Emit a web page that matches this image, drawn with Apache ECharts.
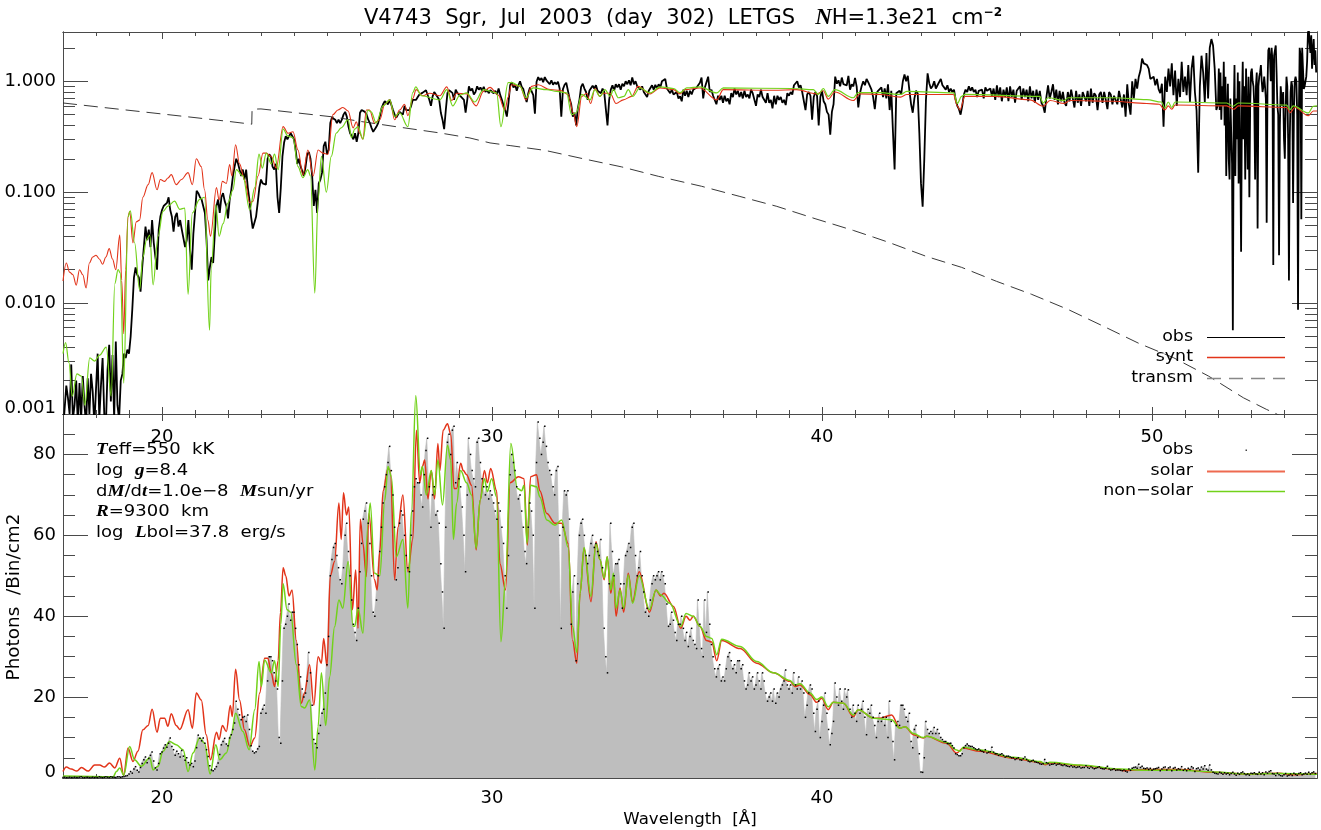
<!DOCTYPE html>
<html><head><meta charset="utf-8">
<style>html,body{margin:0;padding:0;background:#fff}#c{width:1321px;height:830px}</style>
<script src="https://cdn.jsdelivr.net/npm/echarts@6/dist/echarts.min.js"></script>
</head><body><div id="c"></div>
<script>
// Observed flux, upper panel: one row per angstrom, from 17 A
const obsTopRows = [
[.0007,.0007,.0018,.0014,.001,.0028,.0009,.0012,.002,.0008,.0019,.0009,.0022,.0012,.0008,.0021,.001,.0023,.0016,.0008],
[.0008,.0035,.0009,.0018,.0032,.001,.0008,.0025,.0042,.0013,.0034,.0009,.0045,.0012,.0009,.002,.0023,.0035,.0032,.0038],
[.0035,.005,.0088,.017,.021,.018,.017,.0127,.021,.032,.049,.037,.046,.032,.056,.035,.026,.02,.046,.06],
[.069,.075,.072,.08,.09,.069,.06,.044,.06,.065,.049,.056,.046,.046,.032,.037,.056,.03,.02,.042],
[.065,.103,.098,.09,.086,.083,.065,.037,.016,.021,.026,.023,.042,.075,.086,.065,.09,.098,.083,.075],
[.058,.085,.105,.14,.17,.2,.183,.16,.14,.16,.13,.16,.11,.085,.06,.047,.053,.06,.08,.11],
[.13,.12,.125,.117,.2,.22,.21,.17,.16,.18,.09,.065,.11,.21,.28,.32,.3,.32,.34,.33],
[.3,.24,.18,.2,.17,.155,.14,.17,.22,.23,.2,.14,.075,.105,.065,.12,.13,.15,.26,.285],
[.22,.24,.42,.47,.48,.45,.42,.45,.42,.45,.5,.53,.48,.39,.34,.32,.3,.34,.285,.34],
[.52,.55,.57,.53,.5,.45,.42,.38,.35,.37,.39,.42,.48,.57,.62,.66,.68,.62,.68,.66],
[.55,.5,.47,.48,.53,.55,.5,.6,.55,.53,.55,.6,.68,.66,.68,.72,.76,.74,.79,.77],
[.83,.8,.68,.6,.73,.8,.76,.72,.68,.52,.45,.37,.55,.785,.83,.81,.785,.68,.84,.785],
[.785,.73,.74,.68,.52,.68,.9,.82,.86,.76,.8,.9,.84,.88,.82,.89,.8,.84,.78,.83],
[.84,.78,.82,.76,.86,.75,.68,.6,.55,.48,.64,.92,.98,.88,.93,.82,.92,1.0,.89,.85],
[.73,.65,.78,.88,.9,.75,.51,.99,1.09,1.02,1.07,.98,1.09,1.02,1.06,.94,1.02,.93,.98,.94],
[.99,.86,.48,.85,.93,.97,1.0,.7,.62,.48,.52,.4,.57,.68,.89,.95,.86,.8,.68,.82],
[.84,.91,.86,.92,.82,.85,.78,.86,.8,.56,.4,.68,.84,.92,.82,.94,.88,.94,.84,.95],
[.9,1.0,.94,1.02,.92,1.08,.94,1.0,.9,.92,.84,.9,.8,.82,.72,.82,.8,.92,.84,.93],
[.86,.94,.88,1.0,.98,1.05,.86,.88,.78,.84,.76,.74,.8,.7,.73,.66,.84,.74,.82,.72],
[.82,.76,.84,.82,.88,.86,.97,1.08,.7,.88,.86,1.1,.8,.84,.74,.76,.62,.74,.68,.74],
[.64,.74,.66,.7,.62,.78,.72,.86,.76,.82,.72,.8,.7,.82,.72,.76,.7,.84,.78,.8],
[.6,.76,.72,.84,.72,.74,.64,.78,.64,.68,.57,.74,.62,.74,.68,.72,.64,.68,.61,.78],
[.74,.8,.76,.92,.93,1.0,.88,.92,.8,.78,.55,.76,.8,.74,.45,.72,.8,.74,.4,.72],
[.82,.66,.62,.53,.5,.33,.53,.62,1.1,.95,1.02,.9,1.08,.94,.96,.92,1.12,.84,.94,.9],
[1.07,.9,.58,.78,.9,1.0,.92,1.05,.98,.98,.84,.72,.56,.78,.82,.84,.88,.72,.86,.7],
[.94,.55,.82,.35,.16,.78,.8,.82,.76,1.0,1.15,1.0,1.12,.82,.62,.52,.7,.82,.78,.34],
[.12,.074,.2,.68,1.18,.96,.86,.9,1.0,.86,.92,.92,1.05,.92,.88,.84,.92,.8,.86,.8],
[.84,.68,.6,.56,.5,.6,.76,.84,.8,.9,.82,.88,.8,.84,.72,.82,.8,.84,.7,.88],
[.82,.8,.86,.74,.86,.68,.92,.72,.88,.66,.84,.72,.88,.66,.9,.72,.84,.64,.82,.8],
[.9,.68,.86,.72,.84,.66,.9,.7,.82,.64,.84,.68,.82,.64,.6,.52,.72,.92,.7,.8],
[.94,.68,.84,.62,.82,.66,.8,.64,.6,.8,.66,.84,.7,.58,.82,.64,.76,.6,.8,.78],
[.66,.82,.6,.86,.64,.78,.74,.55,.76,.8,.64,.8,.68,.56,.8,.76,.62,.74,.76,.62],
[.82,.82,.58,.76,.48,.94,.62,.5,1.0,.7,1.05,.86,1.1,1.25,1.6,1.45,1.4,1.4,1.3,1.05],
[1.05,1.1,.92,1.05,.85,.78,.95,.39,1.1,.8,1.3,.9,1.45,.75,1.25,.6,1.05,.72,1.5,.8],
[1.1,.75,1.4,.65,1.3,1.7,.8,.55,.15,.9,1.7,1.2,.65,1.8,.7,2.0,2.4,2.1,1.3,.55],
[.62,1.3,.55,1.2,.45,.9,.6,1.5,.4,1.1,.14,.5,.95,.2,.13,.7,.35,.18,.0057,.45,1.4,.14,.7,.3,1.2,.12,1.0,.22,.029,.6,1.5,.3,.9,.13,1.3,.5,.16,1.1,.09,.6],
[1.2,1.3,1.0,.9,.6,.13,.9,1.2,.047,.9,1.1,1.2,1.4,1.0,.8,.9,1.1,.9,.7,.053,.9,1.9,2.0,1.6,1.0,2.0,1.5,.022,1.7,1.9,2.1,1.2,.6,.5,.027,.4,.9,.7,.6,.8],
[.3,.2,.6,1.1,.9,.3,.016,.3,.8,1.0,.9,.08,.5,1.0,1.1,1.0,.5,.0087,.5,2.0,1.7,.057,2.0,1.3,.85,.9,1.0,1.1,1.5,2.7,3,2.2,1.8,2.6,1.3,1.9,2.4,1.4,1.9,1.2]
];
// Observed photons per bin, lower panel: one row per angstrom, from 17 A
const obsBinRows = [
[.1,.2,.1,.1,.2,.1,.1,.2,.1,.1,.2,.3,.1,.1,.2,.2,.1,.1,.2,.1],
[.2,.1,.3,.2,.1,.2,.3,.2,.1,.3,.2,.2,.1,.3,.3,.2,.3,.4,.5,.6],
[1,1.6,1.2,2.2,2.8,1.9,1.5,2.6,3.6,4.5,5.2,3.8,4.8,5.6,6.4,4.2,2.5,2,3.6,6],
[6.4,7.4,8.2,7.6,8.6,9.9,7.8,7,5.6,6.6,6,5.2,6.8,5.4,4.4,5,3.8,3.2,3.6,2.8],
[4.2,7.5,10.6,9.8,9.2,9.9,8.6,7,5.3,3,2,1.8,2.2,2.8,3.7,5.8,8.2,9,9.8,8.4],
[8,9.9,10.7,12,13.6,19,17,15.6,14.4,15,15.2,14,15.6,12,8,6.6,6.2,6.5,7.2,7.8],
[16,17,18,16,24,30,30,29,26,24,22,10,8.6,24,37,38,40,43,39,41],
[41,37,33,28,25,22,20,21,24,31,26,18,9.5,8.5,7.5,11,13,16,17,21],
[28,35,50,54,57,58,55,52,49,48,52,60,63,56,50,44,38,36,34,42],
[51,58,64,66,68,63,58,50,41,40,44,50,56,62,68,72,75,78,82,76],
[70,62,49,52,63,66,65,60,55,52,51,60,66,72,74,73,73,70,67,75],
[81,84,72,62,70,72,65,66,63,53,46,37,62,83,85,80,86,87,73,78],
[74,72,67,60,51,70,84,80,76,74,72,83,84,78,74,72,70,72,69,71],
[70,68,66,64,68,66,62,58,50,42,55,75,80,78,76,72,69,70,66,62],
[56,53,62,68,66,60,42,78,88,84,80,83,87,82,78,76,75,72,70,76],
[77,60,37,62,71,70,71,64,38,46,50,29,48,60,63,64,60,55,53,55],
[58,60,57,58,56,55,59,52,37,30,26,48,63,56,50,53,53,54,48,42],
[48,55,56,58,57,62,63,55,50,52,56,50,46,41,42,40,44,48,50,49],
[50,51,49,51,50,48,43,37.5,38,41,39,36,34,38,38,40,37,34,36,32.5],
[35,37,34,33,32,44,38,32,30,44,36,46,38,33,30,27,25,27,28,24],
[25,24,27,30,31,29,27,28,26,29,29,27,28,24,22,23,26,24,25,22],
[23,26,24,22,26,24,21,19,20,21,19,22,18.5,21,20,22,23,24,26.7,23],
[22,23,21,26,23,22,25,22,24,21,15,18,21,23,22,16,11.5,17,19,10],
[14,18,21,16,12,8.2,11,14,23.5,20,18,22,19,17,22,20,21.8,17,15,18],
[16,14,18,16,17,19,15,10.7,17,16,18,15,13,10,14,16,14,15,13,15],
[10,19,14,9,4.5,13,14,13,18,18,17,15,14,16,9,7.5,12,13,10,6],
[1.5,1.4,5,14,12,11,11.5,11,12.5,11,12,11,10,9.5,9,9,8.5,8.5,8.6,8],
[7.4,6,5.8,5.5,5.5,6,7.5,8,8.4,8,7.8,7.8,7.5,7.2,7,7.2,6.8,6.6,6.4,7],
[6.2,6.4,6.5,7.6,6.4,6,6,5.6,5.8,6,5.6,5.2,5.4,5.4,5.2,5,5,4.6,4.8,5],
[4.5,4.4,4.8,5.2,4.6,4.2,4,4.2,4.4,4,3.9,3.8,3.5,3.4,3.5,4.6,3.8,3.6,3.2,3.4],
[3.4,3.6,3.2,3.4,3.5,3.2,3.1,3.3,3,2.9,2.8,3,2.7,2.8,2.6,2.7,2.8,2.5,2.6,2.6],
[3,2.6,2.4,2.7,2.5,2.3,2.4,2.6,2.8,2.4,2.3,2.2,2.4,2.9,2.2,2,2.1,2.3,1.9,2],
[2,1.9,1.8,2,1.7,1.5,2.2,1.9,2.4,2.6,2.7,2.4,3.4,2.6,2.9,2.4,2.3,2.5,2.1,2.4],
[1.9,2.2,2.3,2.4,2.6,1.8,2.2,2.6,2.7,2,2.5,2.7,1.8,2.4,2.6,2,2.3,2.1,2.8,1.9],
[2.2,1.8,2.4,2.1,2.8,2.5,1.6,2.3,2.5,2,2.7,2.2,3,2.2,1.9,3.2,2,1.4,1.2,1.1],
[1,1.4,1.2,.9,1.3,1,1.2,.8,1.1,1.4,1,.7,1.2,.9,1.3,1.5,1.1,.8,1,.7],
[1.2,1.1,1.3,1,.9,1.4,1,1.3,.8,1.5,1.2,1.6,1.8,1.1,1,.6,1.2,.8,.6,.5],
[.8,1.1,.5,.7,1,.6,1.2,.9,.7,1.1,1.3,.8,1,1.2,.9,1.4,1,1.3,1.5,1.1]
];
// Model curves: wavelength, then value read at that wavelength
const redTopWave = [17,17.1,17.2,17.3,17.4,17.5,17.6,17.7,17.8,17.9,18,18.1,18.2,18.3,18.4,18.5,18.6,18.72,18.78,18.84,18.9,18.97,19.02,19.12,19.22,19.32,19.42,19.58,19.7,19.85,19.95,20.08,20.18,20.28,20.43,20.59,20.79,20.92,21.04,21.19,21.29,21.39,21.47,21.65,21.73,21.83,21.95,22.05,22.12,22.23,22.35,22.5,22.66,22.76,22.91,23.06,23.16,23.31,23.46,23.67,23.82,23.97,24.12,24.27,24.42,24.58,24.73,24.88,25.03,25.18,25.33,25.48,25.64,25.79,25.89,25.99,26.09,26.19,26.29,26.44,26.6,26.75,26.9,27.05,27.2,27.35,27.45,27.6,27.7,27.9,28.11,28.42,28.63,28.78,28.93,29.23,29.52,29.74,29.94,30.19,30.39,30.49,30.59,30.85,31.03,31.2,31.4,31.76,32.06,32.31,32.46,32.57,32.72,32.87,32.99,33.12,33.27,33.37,33.58,33.76,33.98,34.23,34.43,34.79,35.09,35.5,35.7,35.85,36.3,36.81,37.01,38.53,39.23,39.84,40.04,40.19,40.39,40.95,41.15,41.76,42.38,42.57,43.98,44.1,44.18,44.33,45.29,46.3,46.7,46.91,47.33,47.52,48.83,49.84,50.22,50.39,50.49,50.6,50.7,52.26,52.48,52.62,54.08,54.18,54.33,54.74,54.89,55];
const redTopFlux = [.0158,.023,.019,.018,.0145,.02,.018,.0137,.023,.026,.027,.025,.0224,.026,.031,.025,.02,.041,.016,.0053,.02,.06,.067,.035,.054,.056,.09,.117,.15,.105,.13,.125,.134,.144,.117,.13,.15,.117,.2,.17,.105,.056,.04,.11,.085,.125,.12,.177,.14,.268,.18,.13,.08,.083,.14,.225,.225,.21,.165,.39,.34,.35,.24,.143,.24,.14,.24,.225,.22,.5,.55,.58,.54,.38,.43,.34,.3,.55,.55,.42,.45,.62,.68,.45,.55,.62,.49,.7,.84,.74,.78,.74,.89,.67,.78,.77,.6,.81,.88,.75,.55,.72,.93,.9,.68,.9,.93,.84,.83,.76,.52,.39,.73,.78,.63,.86,.73,.78,.78,.63,.68,.73,.9,.77,.87,.84,.77,.84,.87,.68,.84,.83,.84,.77,.82,.69,.8,.67,.77,.76,.72,.76,.76,.6,.55,.73,.73,.68,.595,.67,.63,.67,.66,.63,.62,.55,.6,.56,.61,.6,.56,.6,.58,.52,.58,.49,.54,.54];
const greenTopWave = [17,17.08,17.18,17.28,17.42,17.56,17.66,17.81,17.96,18.11,18.31,18.46,18.57,18.67,18.74,18.84,18.97,19.04,19.17,19.32,19.42,19.53,19.63,19.73,19.88,20.03,20.18,20.38,20.54,20.69,20.79,20.92,21.14,21.29,21.44,21.49,21.63,21.73,21.85,22,22.15,22.25,22.45,22.66,22.81,22.94,23.04,23.16,23.31,23.41,23.52,23.67,23.82,23.97,24.12,24.27,24.42,24.5,24.63,24.73,24.83,24.98,25.13,25.28,25.43,25.64,25.74,25.84,25.94,26.09,26.24,26.34,26.49,26.7,26.9,27.05,27.2,27.45,27.6,27.69,27.86,28.42,28.63,28.81,29.03,29.23,29.48,29.74,30.14,30.27,30.49,30.6,30.85,31.03,31.25,31.66,31.96,32.26,32.41,32.55,32.72,32.97,33.12,33.27,33.42,33.58,33.68,33.83,34,34.13,34.26,34.48,34.79,35.09,35.5,35.7,35.9,36.3,36.81,37.01,39.13,39.74,39.89,40.04,40.19,40.39,40.95,41.1,41.76,42.38,42.57,44,44.1,44.23,44.33,46.6,46.7,46.85,47.33,47.46,48.83,49.84,50.29,50.39,50.49,50.6,50.7,52.26,52.46,52.62,54.08,54.18,54.28,54.74,54.89,55];
const greenTopFlux = [.0035,.0044,.0029,.00145,.0023,.0022,.0012,.0032,.003,.0034,.004,.00145,.015,.02,.0186,.0019,.06,.068,.035,.0132,.026,.037,.041,.0146,.04,.067,.075,.083,.07,.072,.012,.065,.086,.09,.0057,.02,.077,.04,.052,.08,.105,.16,.14,.069,.11,.22,.165,.225,.18,.22,.16,.37,.32,.31,.17,.135,.16,.14,.0123,.085,.21,.1,.21,.34,.38,.45,.31,.37,.39,.3,.55,.53,.42,.6,.68,.48,.52,.39,.79,.89,.74,.68,.84,.6,.75,.785,.65,.84,.785,.39,.97,.97,.9,.71,.87,.84,.81,.785,.5,.52,.76,.68,.84,.73,.84,.73,.84,.71,.73,.84,.73,.87,.785,.89,.86,.79,.87,.89,.785,.87,.86,.84,.76,.86,.73,.84,.71,.79,.79,.76,.81,.785,.63,.73,.76,.73,.637,.71,.67,.71,.71,.683,.65,.57,.65,.58,.65,.637,.595,.637,.61,.555,.6,.518,.595,.6];
const transmWave = [17,18,19,20,21,22,22.72,22.73,23,24,25.18,26,27,28.42,29.33,29.94,30.55,31.61,32.77,33.93,35.04,36.35,37.51,38.63,39.79,40.95,41.56,42.02,43.17,44.23,45.29,46.35,47.46,48.52,49.59,50.65,51.71,52.77,53.47,53.78,55];
const transmVal = [.637,.59,.547,.507,.47,.435,.41,.56,.563,.522,.477,.435,.393,.342,.308,.278,.263,.238,.2,.169,.139,.113,.0915,.0745,.0577,.0452,.0393,.0353,.0263,.021,.0157,.012,.00875,.0062,.00435,.00322,.0022,.0014,.0011,.001,.0006];
const redBinWave = [17,17.1,17.25,17.42,17.56,17.76,17.96,18.11,18.26,18.41,18.57,18.72,18.84,18.97,19.12,19.27,19.42,19.58,19.7,19.85,19.95,20.08,20.18,20.28,20.43,20.54,20.79,20.92,21.04,21.19,21.34,21.47,21.65,21.73,21.83,21.95,22.07,22.13,22.23,22.35,22.5,22.66,22.81,22.96,23.11,23.21,23.31,23.41,23.52,23.59,23.67,23.75,23.85,23.94,24.07,24.22,24.32,24.47,24.6,24.73,24.83,24.9,25,25.1,25.23,25.36,25.43,25.5,25.59,25.66,25.77,25.87,25.94,26.01,26.09,26.19,26.27,26.44,26.52,26.6,26.7,26.85,26.92,27.05,27.15,27.3,27.45,27.6,27.71,27.81,27.89,27.96,28.06,28.16,28.26,28.36,28.42,28.52,28.65,28.75,28.85,28.93,29.05,29.13,29.23,29.38,29.52,29.64,29.77,29.86,29.96,30.14,30.24,30.41,30.55,30.8,30.97,31.07,31.17,31.35,31.45,31.66,31.91,32.11,32.31,32.44,32.57,32.67,32.79,33,33.15,33.27,33.4,33.49,33.6,33.68,33.76,33.88,33.99,34.13,34.26,34.46,34.77,34.97,35.11,35.21,35.5,35.72,35.88,36,36.1,36.3,36.5,36.66,36.81,36.96,37.52,38.02,38.53,39.03,39.18,39.33,39.64,39.84,39.99,40.19,40.34,40.65,40.95,41.1,41.56,41.76,42.11,42.36,42.52,42.77,43.07,43.17,43.78,44.08,44.28,44.79,45.8,46.61,46.76,46.91,47.82,49.03,49.13,49.84,50.85,51.86,52.87,53.88,54.18,55];
const redBinVal = [1.6,2.7,2.2,1.7,2.6,1.7,3.2,3.2,2.7,3.7,2.5,4.9,.66,7.4,4.1,6.6,11.9,13,17,11.3,14.8,14.8,12.8,15.9,13,12,16.9,12.3,21,19.3,10.7,4.5,11.3,9.5,13,11.5,17.9,15.2,26.9,19.3,11.9,7.8,9.9,21,29.6,29.6,26,22.6,29,41,52,50,45,46.5,34,18.5,21,28,18,30,28.4,34.5,27.6,50,53.5,68,59,70.5,65,67,41.6,51.4,37,64,58,49.8,65.4,49,46.5,56,71,76.5,76,49,62,70,51,59,86,73,77,78.6,69,76,69,82.7,76,86,87.6,85,71.6,71.6,77.8,76,75,72.4,56.4,68.7,76,73,76.5,71,53,46.5,73,74.5,74,57.6,74.5,75,71,65.4,63,63,58,34,28.4,45.7,56.8,43.6,58.4,54,49,54.7,45.7,50,40,47,41,50.6,43.6,51,41,46.5,45,45.7,42.4,37,40,39,40,37.5,34,33.6,29,34,32,28.4,26,23.9,22.6,23,20.6,18.7,19.7,16.9,18.7,18.5,15.2,16.9,14.8,14.8,15.6,12.3,12.7,10.7,9.9,10.3,8.6,6.2,7.4,6.6,4.9,3.9,3.3,3.7,3.1,2.1,1.8,2.1,2.1,1.4,1,1.2,.8,1.1];
const greenBinWave = [17,18.52,18.62,18.72,18.84,19.02,19.17,19.37,19.63,19.73,19.88,20.03,20.23,20.43,20.64,20.79,20.94,21.14,21.29,21.46,21.63,21.75,21.95,22.1,22.23,22.45,22.64,22.81,22.94,23.01,23.11,23.31,23.41,23.52,23.6,23.67,23.79,23.9,24.07,24.22,24.32,24.47,24.63,24.73,24.83,24.96,25.08,25.23,25.36,25.48,25.64,25.79,25.84,25.94,26.09,26.24,26.31,26.44,26.6,26.75,26.85,26.95,27.1,27.3,27.45,27.56,27.69,27.83,27.89,28.01,28.16,28.26,28.36,28.5,28.65,28.75,28.83,28.93,29.05,29.23,29.38,29.52,29.64,29.77,29.86,29.99,30.14,30.27,30.41,30.57,30.77,30.9,30.97,31.06,31.17,31.35,31.45,31.66,31.91,32.11,32.31,32.44,32.57,32.67,32.79,33,33.15,33.27,33.4,33.49,33.6,33.68,33.76,33.88,33.99,34.13,34.26,34.46,34.77,34.97,35.11,35.39,35.72,35.88,36.1,36.3,36.5,36.66,36.81,36.96,37.52,38.02,38.53,39.03,39.18,39.33,39.64,39.84,39.99,40.19,40.34,40.65,40.95,41.1,41.56,42.11,42.36,42.52,42.77,43.07,43.17,43.78,44.08,44.18,44.28,44.79,45.8,46.61,46.76,46.91,47.82,49.03,49.84,50.85,51.86,52.87,53.88,55];
const greenBinVal = [.5,.3,1.6,2.5,.66,7.8,4.5,2.9,5,2,2.9,6.6,9,8.2,7,1.6,6.2,9.9,8.6,1,8.2,4.5,6.2,10.7,16,11.5,7,16.9,28.8,22.6,29.2,26,29,22.6,38,48,41.6,41,28,17.7,17.3,19.3,2,12.7,26,13,25,37.4,44,42,53.5,37.5,37.5,42,35.8,62.5,68,50.6,50,68.7,77,74.5,54.7,59,42,66,94.6,75,77,70,76,70,78.6,67.5,82.3,78.6,59,68,76,73,70,56.8,68.7,74,70.8,74,69.5,33.7,49,82.7,71.6,71,72.4,58,72.4,72,69.5,63.8,62.5,63.8,57,37.5,31,45.7,57,44.9,58,54,49.4,54.7,46.5,50.6,42,46.5,42,50.2,43.2,50,41.6,46.5,45.3,43.2,37.5,40.7,40,37.5,35,34.5,30.5,34.3,32.5,28.8,26,24.1,23,23.3,21,19.4,20,17.6,18.7,18.5,15.6,16.9,14.8,14.4,12.3,12.7,11,10,10.3,8.8,6.9,6.6,7.6,6.9,5.1,4.1,3.5,3.9,3.2,2.2,1.9,1.9,1.5,1,1.1,.9];
// Axis ticks and labels
const xMajor = [20,30,40,50];
const xMinor = [18,19,21,22,23,24,25,26,27,28,29,31,32,33,34,35,36,37,38,39,41,42,43,44,45,46,47,48,49,51,52,53,54];
const yLogMajor = [0.001,0.01,0.1,1];
const yLogMinor = [.002,.003,.004,.005,.006,.007,.008,.009,.02,.03,.04,.05,.06,.07,.08,.09,.2,.3,.4,.5,.6,.7,.8,.9,2];
const yLinMajor = [0,20,40,60,80];
const yLinMinor = [5,10,15,25,30,35,45,50,55,65,70,75,85];

const RED = '#e2341a', GREEN = '#72d21a', AXC = '#4a4a4a', GRAY = '#bebebe';
const FONT = '"DejaVu Sans"';
const zip = (a,b) => a.map((w,i) => [w,b[i]]);
const unroll = rows => { const out=[]; rows.forEach((r,i)=>r.forEach((v,j)=>out.push([17+i+j/r.length,v]))); return out; };

function xAxes(grid, margin){
  const base = {type:'value',gridIndex:grid,min:17,max:55,splitLine:{show:false},axisLine:{onZero:false,lineStyle:{color:AXC,width:1}}};
  const mk = (pos,vals,len,lab) => ({...base,position:pos,
    axisTick:{show:true,inside:true,length:len,customValues:vals,lineStyle:{color:AXC,width:1}},
    axisLabel:lab?{show:true,customValues:vals,margin,color:'#000',fontFamily:FONT,fontSize:18}:{show:false}});
  return [mk('bottom',xMajor,7,true),mk('bottom',xMinor,4,false),mk('top',xMajor,7,false),mk('top',xMinor,4,false)];
}
function yAxes(grid, type, min, max, maj, mnr, fmt){
  const base = {type,gridIndex:grid,min,max,splitLine:{show:false},axisLine:{onZero:false,lineStyle:{color:AXC,width:1}}};
  const mk = (pos,vals,len,lab) => ({...base,position:pos,
    axisTick:{show:true,inside:true,length:len,customValues:vals,lineStyle:{color:AXC,width:1}},
    axisLabel:lab?{show:true,customValues:vals,margin:7,color:'#000',fontFamily:FONT,fontSize:18,lineHeight:12,formatter:fmt,verticalAlignMinLabel:'bottom'}:{show:false}});
  return [mk('left',maj,25,true),mk('left',mnr,12,false),mk('right',maj,25,false),mk('right',mnr,12,false)];
}
const ital = {fontFamily:'"Liberation Serif"',fontStyle:'italic',fontWeight:'bold',fill:'#000',color:'#000'};
const txt = (x,y,text,align,sx) => ({type:'text',x,y,z:50,silent:true,scaleX:sx||1.09,style:{text,x:0,y:0,align:align||'left',verticalAlign:'middle',fontFamily:FONT,fontSize:16,fill:'#000',rich:{i:{...ital,fontSize:17}}}});
const legLine = (y,color,w,dash) => ({type:'line',z:50,silent:true,shape:{x1:1207,y1:y+0.5,x2:1285,y2:y+0.5},style:{stroke:color,lineWidth:w,lineDash:dash||null}});

const lineS = (name,data,color,width,xi,yi,extra) => Object.assign({name,type:'line',data,xAxisIndex:xi,yAxisIndex:yi,showSymbol:false,symbol:'none',sampling:null,lineStyle:{color,width},itemStyle:{color},animation:false},extra||{});

const option = {
  animation:false, backgroundColor:'#fff',
  title:{left:359,top:2,text:'V4743  Sgr,  Jul  2003  (day  302)  LETGS   {i|N}H=1.3e21  cm{s|−2}',
    textStyle:{fontFamily:FONT,fontWeight:'normal',fontSize:21,color:'#000',rich:{i:{...ital,fontSize:23},s:{fontSize:12,fontWeight:'bold',fontFamily:FONT,verticalAlign:'top',padding:[0,0,8,0]}}}},
  grid:[{left:63,top:32,width:1254,height:382},{left:63,top:414,width:1254,height:364}],
  xAxis:[...xAxes(0,14),...xAxes(1,11)],
  yAxis:[...yAxes(0,'log',0.001,2.78,yLogMajor,yLogMinor,v=>Number(v).toFixed(3)),
         ...yAxes(1,'value',0,90,yLinMajor,yLinMinor,v=>String(v))],
  series:[
    lineS('obs',unroll(obsTopRows),'#000',1.8,0,0),
    lineS('transm',zip(transmWave,transmVal),'#222',0.9,0,0,{lineStyle:{color:'#222',width:0.9,type:[14,7]}}),
    lineS('synt',zip(redTopWave,redTopFlux),RED,1.1,0,0,{smooth:0.35,smoothMonotone:'x'}),
    lineS('non-solar top',zip(greenTopWave,greenTopFlux),GREEN,1.2,0,0,{smooth:0.35,smoothMonotone:'x'}),
    lineS('obs counts',unroll(obsBinRows),GRAY,0.5,4,4,{step:'middle',areaStyle:{color:GRAY,opacity:1},symbol:'rect',symbolSize:1.5,showSymbol:true,showAllSymbol:true,itemStyle:{color:'#000'},lineStyle:{color:GRAY,width:0.6}}),
    lineS('solar',zip(redBinWave,redBinVal),RED,1.5,4,4,{smooth:0.35,smoothMonotone:'x',clip:false}),
    lineS('non-solar',zip(greenBinWave,greenBinVal),GREEN,1.5,4,4,{smooth:0.35,smoothMonotone:'x',clip:false})
  ],
  graphic:{elements:[
    txt(1193,337,'obs','right'),txt(1193,357,'synt','right'),txt(1193,378,'transm','right'),
    legLine(337,'#000',1),legLine(357,RED,1.6),legLine(378,'#888',1.4,[14,8]),
    txt(1193,450,'obs','right'),txt(1193,471,'solar','right'),txt(1193,491,'non−solar','right'),
    {type:'rect',z:50,silent:true,shape:{x:1245.5,y:449.5,width:1.5,height:1.5},style:{fill:'#444'}},
    legLine(471,'#ee6a50',2),legLine(491,GREEN,1.6),
    txt(96,450,'{i|T}eff=550  kK','left',1.125),txt(96,471,'log  {i|g}=8.4','left',1.125),
    txt(96,492,'d{i|M}/d{i|t}=1.0e−8  {i|M}sun/yr','left',1.125),txt(96,512,'{i|R}=9300  km','left',1.125),
    txt(96,533,'log  {i|L}bol=37.8  erg/s','left',1.125),
    {type:'text',z:50,silent:true,x:690,y:820,style:{text:'Wavelength  [Å]',align:'center',verticalAlign:'middle',fontFamily:FONT,fontSize:16.6,fill:'#000'}},
    {type:'text',z:50,silent:true,x:14,y:597,rotation:Math.PI/2,style:{text:'Photons  /Bin/cm2',align:'center',verticalAlign:'middle',fontFamily:FONT,fontSize:18.4,fill:'#000'}}
  ]}
};
echarts.init(document.getElementById('c'),null,{renderer:'canvas'}).setOption(option);
</script></body></html>
